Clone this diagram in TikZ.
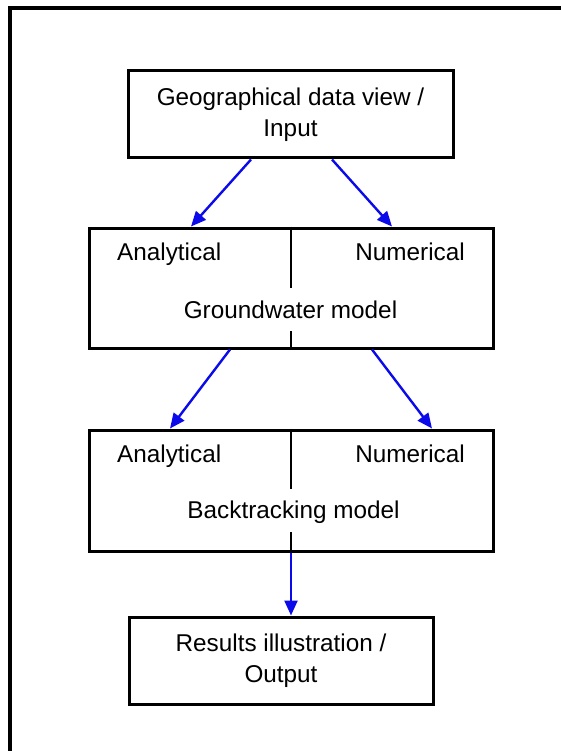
\documentclass[tikz,border=0pt]{standalone}
\usepackage{fontspec}
\setmainfont{Liberation Sans}
\usetikzlibrary{calc,arrows.meta}
\begin{document}
\begin{tikzpicture}[x=1pt,y=-1pt,
  box/.style={draw=black,line width=3pt,inner sep=0pt,align=center,font=\fontsize{24.3}{31}\selectfont},
  lbl/.style={inner sep=0pt,font=\fontsize{24.3}{31}\selectfont},
  flow/.style={draw={rgb,255:red,10;green,10;blue,235},line width=2.4pt,-{Triangle[length=15pt,width=13pt]}},
  divider/.style={draw=black,line width=2.2pt}]
\useasboundingbox (0,0) rectangle (560,751);
\draw[line width=4pt] (10,760) -- (10,8) -- (565,8);
% boxes
\node[box,minimum width=325pt,minimum height=87pt] (in) at (290.5,114.5) {Geographical data view /\\Input};
\node[box,minimum width=404pt,minimum height=120pt] (gw) at (291,288) {};
\node[box,minimum width=404pt,minimum height=121pt] (bt) at (291,490.5) {};
\node[box,minimum width=304pt,minimum height=87pt] (out) at (281,660.5) {Results illustration /\\Output};
% groundwater labels
\node[lbl,anchor=base west] (gwa) at (117,260) {Analytical};
\node[lbl,anchor=base east] (gwn) at (465,260) {Numerical};
\node[lbl,anchor=base] (gwm) at (290.5,318) {Groundwater model};
\draw[divider] (gw.north) -- ($(gw.north)+(0,61)$);
\draw[divider] (gw.south) -- ($(gw.south)+(0,-19)$);
% backtracking labels
\node[lbl,anchor=base west] (bta) at (117,462) {Analytical};
\node[lbl,anchor=base east] (btn) at (465,462) {Numerical};
\node[lbl,anchor=base] (btm) at (293.5,518) {Backtracking model};
\draw[divider] (bt.north) -- ($(bt.north)+(0,60)$);
\draw[divider] (bt.south) -- ($(bt.south)+(0,-21)$);
% arrows
\draw[flow] ($(in.south)+(-39.5,0)$) -- ($(gw.north)+(-100,0)$);
\draw[flow] ($(in.south)+(41.5,0)$) -- ($(gw.north)+(101,0)$);
\draw[flow] ($(gw.south)+(-61,0)$) -- ($(bt.north)+(-121,0)$);
\draw[flow] ($(gw.south)+(81,0)$) -- ($(bt.north)+(141,0)$);
\draw[flow] (bt.south) -- ($(out.north)+(10,0)$);
\end{tikzpicture}
\end{document}
